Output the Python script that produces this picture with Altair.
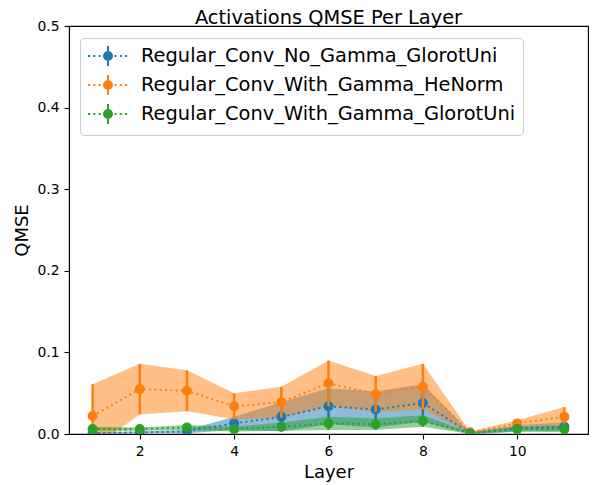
import altair as alt
import pandas as pd

layers = list(range(1, 12))
series_names = [
    "Regular_Conv_No_Gamma_GlorotUni",
    "Regular_Conv_With_Gamma_HeNorm",
    "Regular_Conv_With_Gamma_GlorotUni",
]
colors = ["#1f77b4", "#ff7f0e", "#2ca02c"]

blue_mean = [0.001, 0.002, 0.003, 0.013, 0.021, 0.034, 0.030, 0.038, 0.001, 0.007, 0.009]
blue_std = [0.001, 0.001, 0.002, 0.008, 0.018, 0.022, 0.022, 0.023, 0.001, 0.004, 0.005]
orange_mean = [0.022, 0.055, 0.053, 0.034, 0.039, 0.062, 0.049, 0.058, 0.002, 0.013, 0.021]
orange_std = [0.039, 0.031, 0.025, 0.016, 0.019, 0.028, 0.022, 0.028, 0.001, 0.004, 0.012]
green_mean = [0.006, 0.006, 0.008, 0.006, 0.009, 0.013, 0.012, 0.016, 0.001, 0.006, 0.006]
green_std = [0.003, 0.002, 0.003, 0.003, 0.005, 0.008, 0.007, 0.007, 0.001, 0.003, 0.004]

x_ticks = [2, 4, 6, 8, 10]
y_ticks = [0.0, 0.1, 0.2, 0.3, 0.4, 0.5]

rows = []
for name, means, stds in zip(series_names, [blue_mean, orange_mean, green_mean],
                             [blue_std, orange_std, green_std]):
    for l, m, s in zip(layers, means, stds):
        rows.append({"layer": l, "series": name, "mean": m, "lo": m - s, "hi": m + s})
df = pd.DataFrame(rows)

# legend handle: dotted line + vertical error bar + filled circle
segs = []
xpos = -2.0
while xpos < 2.0:
    x2 = min(xpos + 0.2, 2.0)
    segs.append(f"M{xpos:.2f},0L{x2:.2f},0")
    xpos += 0.53
handle = "".join(segs) + "M0,-1L0,1" + "M0.4,0A0.4,0.4 0 1,1 -0.4,0A0.4,0.4 0 1,1 0.4,0Z"

legend = alt.Legend(
    title=None,
    orient="none",
    legendX=11,
    legendY=12,
    symbolType=handle,
    symbolSize=400,
    symbolStrokeWidth=2,
    symbolOpacity=1,
    symbolOffset=10,
    labelOffset=22,
    labelFont="DejaVu Sans",
    labelFontSize=19.4,
    labelColor="black",
    labelLimit=600,
    rowPadding=1,
    padding=7,
    strokeColor="#cccccc",
    fillColor="white",
    cornerRadius=4,
)

# marks (areas, lines, error bars) use the colour scale with no legend; its domain is listed
# in reverse so that it is not merged with the fill/stroke legend of the points
color_noleg = alt.Color("series:N", scale=alt.Scale(domain=series_names[::-1], range=colors[::-1]),
                        legend=None)
pscale = alt.Scale(domain=series_names, range=colors)
fill_leg = alt.Fill("series:N", scale=pscale, legend=legend)
stroke_leg = alt.Stroke("series:N", scale=pscale, legend=legend)

xenc = alt.X(
    "layer:Q",
    scale=alt.Scale(domain=[0.5, 11.5], nice=False, zero=False),
    axis=alt.Axis(values=x_ticks, format="d", title="Layer", titleY=38, titleBaseline="middle"),
)


def yenc(field):
    return alt.Y(
        field,
        scale=alt.Scale(domain=[0, 0.5], nice=False),
        axis=alt.Axis(values=y_ticks, format=".1f", title="QMSE", titleX=-47, titleY=204,
                      titleBaseline="middle", titleAngle=-90, titleAlign="center"),
    )


base = alt.Chart(df)
layers_list = []
for name in series_names:
    layers_list.append(
        base.transform_filter(alt.datum.series == name)
        .mark_area(fillOpacity=0.5, clip=True)
        .encode(x=xenc, y=yenc("lo:Q"), y2="hi:Q", color=color_noleg)
    )
for name in series_names:
    sub = base.transform_filter(alt.datum.series == name)
    layers_list.append(
        sub.mark_rule(strokeWidth=2.5, clip=True)
        .encode(x=xenc, y=yenc("lo:Q"), y2="hi:Q", color=color_noleg)
    )
    layers_list.append(
        sub.mark_line(strokeDash=[2, 3.3], strokeWidth=2, clip=True)
        .encode(x=xenc, y=yenc("mean:Q"), color=color_noleg)
    )
    layers_list.append(
        sub.mark_point(filled=True, size=64, strokeWidth=2, opacity=1, clip=True)
        .encode(x=xenc, y=yenc("mean:Q"), fill=fill_leg, stroke=stroke_leg)
    )

chart = (
    alt.layer(*layers_list)
    .properties(
        width=519,
        height=408,
        title=alt.TitleParams("Activations QMSE Per Layer", font="DejaVu Sans", fontSize=19.4,
                              fontWeight="normal", color="black", offset=-9, anchor="middle",
                              frame="group"),
        autosize=alt.AutoSizeParams(type="none"),
        padding={"left": 61, "top": 18, "right": 8, "bottom": 56},
    )
    .configure_view(stroke="black", strokeWidth=1.1)
    .configure_axis(
        grid=False,
        labelFont="DejaVu Sans",
        labelFontSize=13.9,
        labelColor="black",
        titleFont="DejaVu Sans",
        titleFontSize=18,
        titleFontWeight="normal",
        titleColor="black",
        tickColor="black",
        domainColor="black",
        tickSize=5,
        tickWidth=1.1,
        domainWidth=1.1,
        labelPadding=5,
    )
)

chart.save("out.html", embed_options={"renderer": "svg", "actions": False})
